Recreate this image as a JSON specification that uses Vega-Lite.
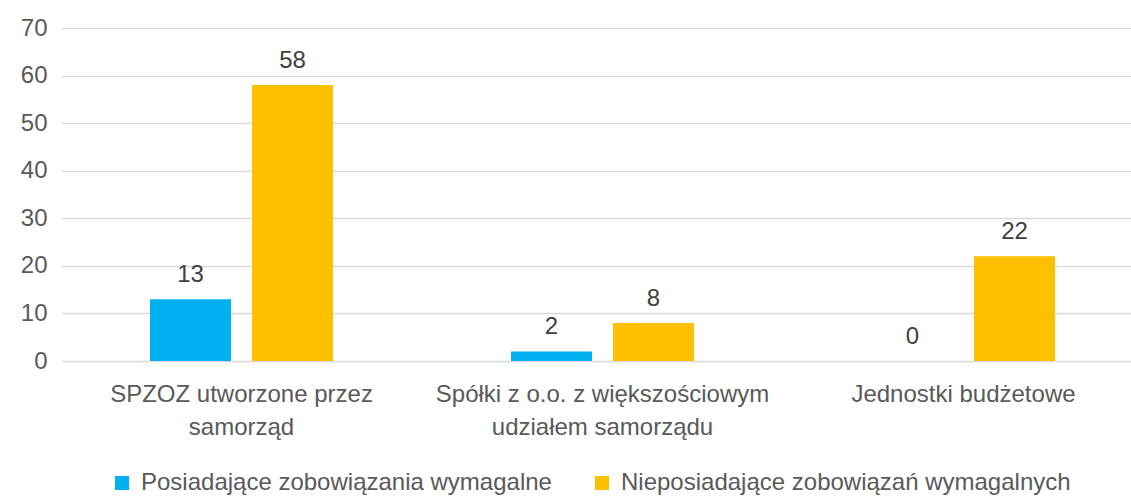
{
  "$schema": "https://vega.github.io/schema/vega-lite/v6.json",
  "width": 1070,
  "height": 333,
  "autosize": {"type": "none"},
  "padding": {"left": 61, "top": 28, "right": 0, "bottom": 137},
  "background": "white",
  "config": {
    "font": "Liberation Sans Narrow, Arial Narrow, Liberation Sans, Arial, sans-serif",
    "view": {"stroke": null}
  },
  "data": {
    "values": [
      {"kategoria": "SPZOZ utworzone przez samorząd", "seria": "Posiadające zobowiązania wymagalne", "wartosc": 13},
      {"kategoria": "SPZOZ utworzone przez samorząd", "seria": "Nieposiadające zobowiązań wymagalnych", "wartosc": 58},
      {"kategoria": "Spółki z o.o. z większościowym udziałem samorządu", "seria": "Posiadające zobowiązania wymagalne", "wartosc": 2},
      {"kategoria": "Spółki z o.o. z większościowym udziałem samorządu", "seria": "Nieposiadające zobowiązań wymagalnych", "wartosc": 8},
      {"kategoria": "Jednostki budżetowe", "seria": "Posiadające zobowiązania wymagalne", "wartosc": 0},
      {"kategoria": "Jednostki budżetowe", "seria": "Nieposiadające zobowiązań wymagalnych", "wartosc": 22}
    ]
  },
  "encoding": {
    "x": {
      "field": "kategoria",
      "type": "nominal",
      "sort": null,
      "scale": {"paddingInner": 0, "paddingOuter": 0, "range": [0, 1083]},
      "axis": {
        "title": null,
        "labelAngle": 0,
        "domain": false,
        "ticks": false,
        "labelFontSize": 24,
        "labelColor": "#595959",
        "labelPadding": 21,
        "labelLineHeight": 33,
        "labelLimit": 400,
        "labelBaseline": "top",
        "labelExpr": "datum.label == 'SPZOZ utworzone przez samorząd' ? ['SPZOZ utworzone przez', 'samorząd'] : datum.label == 'Spółki z o.o. z większościowym udziałem samorządu' ? ['Spółki z o.o. z większościowym', 'udziałem samorządu'] : datum.label"
      }
    },
    "xOffset": {
      "field": "seria",
      "type": "nominal",
      "sort": ["Posiadające zobowiązania wymagalne", "Nieposiadające zobowiązań wymagalnych"],
      "scale": {"paddingInner": 0.206, "paddingOuter": 0.873}
    },
    "y": {
      "field": "wartosc",
      "type": "quantitative",
      "scale": {"domain": [0, 70]},
      "axis": {
        "title": null,
        "values": [0, 10, 20, 30, 40, 50, 60, 70],
        "domain": false,
        "ticks": false,
        "labelFontSize": 24,
        "labelColor": "#595959",
        "labelPadding": 14,
        "gridColor": "#d9d9d9",
        "gridWidth": 1.5
      }
    }
  },
  "layer": [
    {
      "mark": {"type": "bar"},
      "encoding": {
        "color": {
          "field": "seria",
          "type": "nominal",
          "sort": ["Posiadające zobowiązania wymagalne", "Nieposiadające zobowiązań wymagalnych"],
          "scale": {"range": ["#00B0F0", "#FFC000"]},
          "legend": {
            "title": null,
            "orient": "none",
            "legendX": 49,
            "legendY": 443,
            "direction": "horizontal",
            "symbolType": "square",
            "symbolSize": 196,
            "symbolStrokeWidth": 0,
            "labelOffset": 7,
            "labelFontSize": 24,
            "labelColor": "#595959",
            "labelLimit": 500,
            "columnPadding": 38
          }
        }
      }
    },
    {
      "mark": {"type": "text", "fontSize": 24, "color": "#404040", "baseline": "alphabetic", "dy": -17},
      "encoding": {
        "text": {"field": "wartosc", "type": "quantitative"}
      }
    }
  ]
}
